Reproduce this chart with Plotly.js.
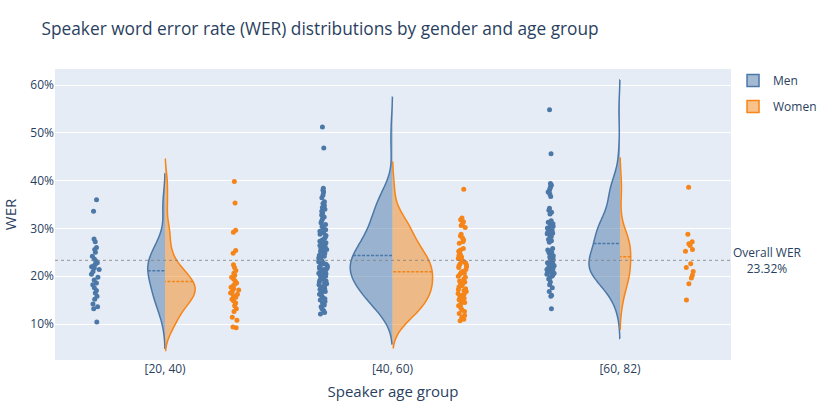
<!DOCTYPE html>
<html>
<head>
<meta charset="utf-8">
<script src="https://cdn.plot.ly/plotly-3.0.1.min.js"></script>
<style>
  html, body { margin: 0; padding: 0; background: #fff; }
  #chart { width: 830px; height: 415px; }
</style>
</head>
<body>
<div id="chart"></div>
<script>
// age groups (x categories)
const ageGroups = ["[20, 40)", "[40, 60)", "[60, 82)"];

// per-speaker WER (fractions)
const menG1 = [0.360, 0.336, 0.278, 0.272, 0.260, 0.256, 0.250, 0.242, 0.236, 0.232, 0.228,
  0.225, 0.222, 0.220, 0.217, 0.214, 0.210, 0.204, 0.198, 0.192, 0.186, 0.182, 0.176,
  0.170, 0.165, 0.158, 0.152, 0.142, 0.136, 0.132, 0.104];
const menG2 = [0.512, 0.468,
  0.384, 0.380, 0.376, 0.370, 0.364, 0.356, 0.352, 0.348, 0.344, 0.340, 0.336, 0.332,
  0.328, 0.324, 0.320, 0.316, 0.312, 0.308, 0.304, 0.300,
  0.297, 0.294, 0.291, 0.288, 0.285, 0.282, 0.279, 0.276, 0.273, 0.270, 0.267, 0.264,
  0.262, 0.260, 0.258, 0.256, 0.254, 0.252, 0.250, 0.248,
  0.246, 0.244, 0.242, 0.240, 0.238, 0.236, 0.235, 0.234, 0.232, 0.230, 0.228, 0.226,
  0.225, 0.224, 0.222, 0.220, 0.218, 0.216, 0.215, 0.214, 0.212, 0.210, 0.208,
  0.206, 0.205, 0.204, 0.202, 0.200, 0.198, 0.196, 0.194, 0.192, 0.190, 0.188, 0.186,
  0.184, 0.182, 0.180, 0.178, 0.176, 0.174, 0.172, 0.170, 0.168,
  0.165, 0.162, 0.159, 0.156, 0.153, 0.150, 0.147, 0.144, 0.140, 0.136, 0.132, 0.128,
  0.124, 0.121];
const menG3 = [0.548, 0.456,
  0.394, 0.391, 0.388, 0.384, 0.380, 0.376, 0.372, 0.367,
  0.342, 0.338, 0.334, 0.330,
  0.316, 0.313, 0.310, 0.307, 0.304, 0.301, 0.300, 0.298, 0.295, 0.292, 0.290, 0.289,
  0.286, 0.283, 0.280, 0.277, 0.274, 0.271,
  0.258, 0.255, 0.252, 0.250, 0.249, 0.246, 0.243, 0.240, 0.237, 0.235, 0.234, 0.231,
  0.228, 0.226, 0.224, 0.222, 0.220,
  0.218, 0.216, 0.215, 0.214, 0.212, 0.210, 0.208, 0.206, 0.205, 0.204, 0.202, 0.200,
  0.197, 0.194, 0.188, 0.182, 0.176, 0.168, 0.160, 0.158, 0.132];

const womenG1 = [0.398, 0.353, 0.296, 0.292, 0.254, 0.248, 0.224, 0.218, 0.212, 0.206, 0.202,
  0.198, 0.194, 0.190, 0.186, 0.183, 0.180, 0.177, 0.174, 0.171, 0.168, 0.165, 0.162,
  0.159, 0.156, 0.152, 0.148, 0.144, 0.138, 0.132, 0.126, 0.114, 0.108, 0.094, 0.092];
const womenG2 = [0.382,
  0.322, 0.318, 0.314, 0.310, 0.306, 0.302,
  0.288, 0.284, 0.280, 0.276, 0.272, 0.269,
  0.258, 0.255, 0.252, 0.249, 0.246, 0.243, 0.240, 0.237, 0.234, 0.231, 0.228, 0.226,
  0.224, 0.222, 0.220,
  0.218, 0.214, 0.210, 0.208, 0.206, 0.204, 0.200, 0.198, 0.194, 0.190, 0.188, 0.186,
  0.184, 0.180,
  0.178, 0.174, 0.172, 0.170, 0.168, 0.164, 0.162, 0.160, 0.157, 0.154,
  0.151, 0.148, 0.145, 0.142, 0.138, 0.134, 0.130, 0.126, 0.122, 0.118, 0.114, 0.110,
  0.107];
const womenG3 = [0.386, 0.288, 0.272, 0.268, 0.264, 0.256, 0.252, 0.226, 0.218, 0.210, 0.202,
  0.196, 0.184, 0.150];

const overallWER = 0.2332;

const menColor = "#4c78a8";
const womenColor = "#f58518";

// flatten group arrays into x / y pairs for one violin trace
function toXY(groups) {
  const x = [];
  const y = [];
  groups.forEach((vals, i) => {
    vals.forEach(v => { x.push(ageGroups[i]); y.push(v); });
  });
  return { x, y };
}

const men = toXY([menG1, menG2, menG3]);
const women = toXY([womenG1, womenG2, womenG3]);

function violin(name, xy, side, pointpos, color) {
  return {
    type: "violin",
    name,
    legendgroup: name,
    x: xy.x,
    y: xy.y,
    side,
    points: "all",
    pointpos,
    jitter: 0.08,
    scalemode: "count",
    line: { color, width: 1.5 },
    marker: { color, size: 5 },
    meanline: { visible: true, color, width: 1.5 },
    box: { visible: false },
  };
}

const data = [
  violin("Men", men, "negative", -1.25, menColor),
  violin("Women", women, "positive", 1.25, womenColor),
];

const layout = {
  width: 830,
  height: 415,
  margin: { l: 55, r: 99, t: 69, b: 55, autoexpand: false },
  paper_bgcolor: "#fff",
  plot_bgcolor: "#e5ecf6",
  font: { family: "Open Sans, verdana, arial, sans-serif", color: "#2a3f5f", size: 12 },
  title: {
    text: "Speaker word error rate (WER) distributions by gender and age group",
    x: 0.05, y: 0.93, yanchor: "middle", font: { size: 17.3 },
  },
  violinmode: "overlay",
  xaxis: {
    type: "category",
    categoryarray: ageGroups,
    range: [-0.484, 2.488],
    title: { text: "Speaker age group", font: { size: 15 }, standoff: 10 },
    automargin: true,
    showgrid: false,
    zeroline: false,
  },
  yaxis: {
    title: { text: "WER", font: { size: 15 } },
    range: [0.0247, 0.6335],
    tickformat: ".0%",
    dtick: 0.1,
    gridcolor: "#fff",
    zeroline: false,
  },
  legend: {
    x: 1.003, y: 1.01, xanchor: "left", yanchor: "top",
    font: { size: 12 }, tracegroupgap: 7,
  },
  shapes: [{
    type: "line", xref: "paper", x0: 0, x1: 1, yref: "y", y0: overallWER, y1: overallWER,
    line: { color: "gray", width: 1, dash: "dot" }, opacity: 0.8,
  }],
  annotations: [{
    xref: "paper", x: 1, yref: "y", y: overallWER,
    xanchor: "left", yanchor: "middle", showarrow: false, align: "center",
    text: "Overall WER<br>" + (overallWER * 100).toFixed(2) + "%",
  }],
};

Plotly.newPlot("chart", data, layout, { displayModeBar: false, responsive: false });
</script>
</body>
</html>
